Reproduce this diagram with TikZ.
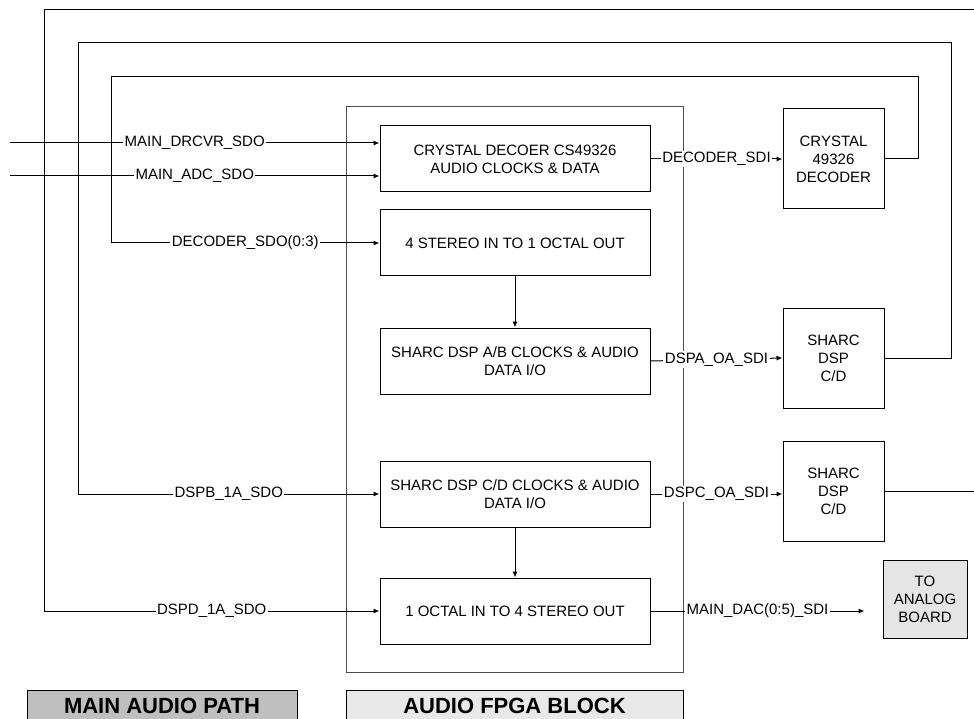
\documentclass[tikz,border=0pt]{standalone}
\usepackage{fontspec}
\setmainfont{Liberation Sans}
\usetikzlibrary{positioning, arrows.meta}

\begin{document}
\begin{tikzpicture}[
    x=1pt, y=-1pt,
    >={Latex[length=6pt, width=5pt]},
    every node/.style={
        font=\fontsize{15}{18}\selectfont,
    },
    fpga box/.style={
        draw,
        line width=1pt,
        minimum width=270pt,
        minimum height=66pt,
        inner sep=2pt,
        align=center,
    },
    chip box/.style={
        draw,
        line width=1pt,
        minimum width=101pt,
        minimum height=100pt,
        align=center,
    },
    sig/.style={
        ->,
        line width=1pt,
    },
    wire/.style={
        line width=1pt,
    },
    sig label/.style={
        fill=white,
        inner sep=1.5pt,
    },
    title box/.style={
        draw,
        line width=1pt,
        minimum height=32pt,
        font=\fontsize{22}{26}\selectfont\bfseries,
    },
]

\clip (0,0) rectangle (974,719);

% --- FPGA block outline ---
\node[draw=black!70, line width=1pt, minimum width=337pt, minimum height=565pt]
    (fpga) at (514.5,389.5) {};

% --- FPGA internal blocks ---
\node[fpga box] (crys) at (515,159) {CRYSTAL DECOER CS49326\\AUDIO CLOCKS \& DATA};
\node[fpga box, below=17pt of crys] (stereo) {4 STEREO IN TO 1 OCTAL OUT};
\node[fpga box, below=51pt of stereo] (sharcAB) {SHARC DSP A/B CLOCKS \& AUDIO\\DATA I/O};
\node[fpga box, below=66pt of sharcAB] (sharcCD) {SHARC DSP C/D CLOCKS \& AUDIO\\DATA I/O};
\node[fpga box, below=50pt of sharcCD] (octal) {1 OCTAL IN TO 4 STEREO OUT};

\draw[sig] (stereo) -- (sharcAB);
\draw[sig] (sharcCD) -- (octal);

% --- External chips ---
\node[chip box] (dec) at (833.5,159) {CRYSTAL\\49326\\DECODER};
\node[chip box] (sharcC) at (833.5,358) {SHARC\\DSP\\C/D};
\node[chip box] (sharcD) at (833.5,491) {SHARC\\DSP\\C/D};
\node[draw, line width=1pt, fill=black!10, minimum width=84pt, minimum height=78pt, align=center]
    (analog) at (925,599) {TO\\ANALOG\\BOARD};

% --- Outputs of the FPGA ---
\draw[sig] (crys.east) -- (dec.west) node[sig label, midway] {DECODER\_SDI};
\draw[sig] (sharcAB.east) -- (sharcC.west) node[sig label, midway] {DSPA\_OA\_SDI};
\draw[sig] (sharcCD.east) -- (sharcCD.east -| sharcD.west) node[sig label, midway] {DSPC\_OA\_SDI};
\draw[sig, shorten >=18pt] (octal.east) -- (octal.east -| analog.west)
    node[sig label, midway, xshift=-9pt] {MAIN\_DAC(0:5)\_SDI};

% --- Main inputs ---
\coordinate (drcvr in) at (10,143);
\coordinate (adc in) at (10,176);
\draw[sig] (drcvr in) -- (drcvr in -| crys.west) node[sig label, midway] {MAIN\_DRCVR\_SDO};
\draw[sig] (adc in) -- (adc in -| crys.west) node[sig label, midway] {MAIN\_ADC\_SDO};

% --- Feedback loops ---
\coordinate (loopA) at (918,77);
\coordinate (loopA left) at (111,77);
\draw[sig] (dec.east) -| (loopA) -- (loopA left) |- (stereo.west)
    node[sig label, pos=0.75] {DECODER\_SDO(0:3)};

\coordinate (loopB) at (951,43);
\coordinate (loopB left) at (78,43);
\draw[sig] (sharcC.east) -| (loopB) -- (loopB left) |- (sharcCD.west)
    node[sig label, pos=0.75] {DSPB\_1A\_SDO};

\coordinate (loopC in) at (974,10);
\coordinate (loopC left) at (44,10);
\coordinate (loopC out) at (974,491);
\draw[wire] (sharcD.east) -- (loopC out);
\draw[sig] (loopC in) -- (loopC left) |- (octal.west)
    node[sig label, pos=0.75] {DSPD\_1A\_SDO};

% --- Titles ---
\node[title box, fill=black!25, minimum width=270pt] (path title) at (162,706) {MAIN AUDIO PATH};
\node[title box, fill=black!9, minimum width=337pt] (fpga title) at (fpga.south |- path title) {AUDIO FPGA BLOCK};

\end{tikzpicture}
\end{document}
